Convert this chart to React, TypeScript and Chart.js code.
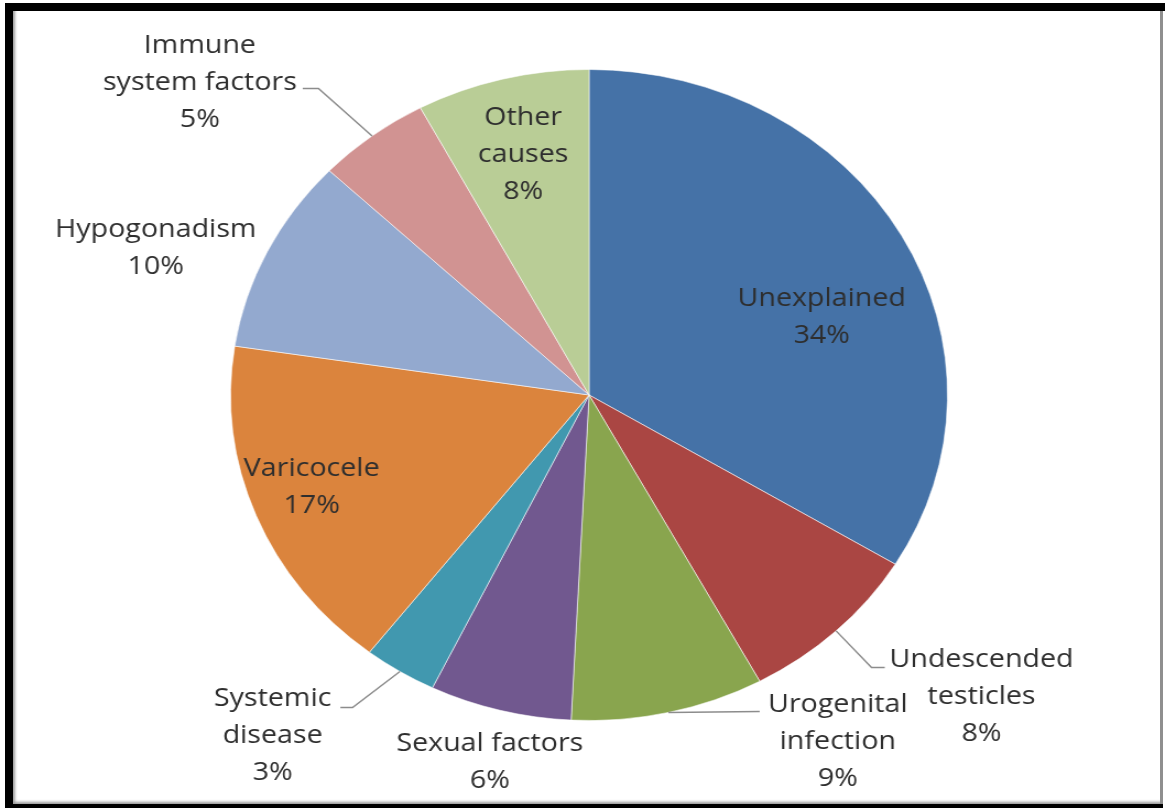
import React, { useEffect, useRef } from "react";
import { Chart, registerables } from "chart.js";

Chart.register(...registerables);

// ---- data ----
const categories = [
  "Unexplained",
  "Undescended testicles",
  "Urogenital infection",
  "Sexual factors",
  "Systemic disease",
  "Varicocele",
  "Hypogonadism",
  "Immune system factors",
  "Other causes",
];
const values = [33.7, 8.4, 8.7, 6.4, 3.3, 16.9, 9.7, 5.1, 7.8];
const labelLines = [
  ["Unexplained"],
  ["Undescended", "testicles"],
  ["Urogenital", "infection"],
  ["Sexual factors"],
  ["Systemic", "disease"],
  ["Varicocele"],
  ["Hypogonadism"],
  ["Immune", "system factors"],
  ["Other", "causes"],
];
const sliceColors = [
  "#4572A7",
  "#AA4643",
  "#89A54E",
  "#71588F",
  "#4198AF",
  "#DB843D",
  "#93A9CF",
  "#D19392",
  "#B9CD96",
];

// ---- label layout (in units of pie radius, relative to pie centre) ----
const labelLayout: [number, number][] = [
  [0.649, -0.245],
  [1.095, 0.923],
  [0.694, 1.061],
  [-0.277, 1.124],
  [-0.883, 1.04],
  [-0.774, 0.279],
  [-1.209, -0.457],
  [-1.086, -0.966],
  [-0.184, -0.742],
];
// [elbowX, elbowY, endX]
const leaderLayout: ([number, number, number] | null)[] = [
  null,
  [0.788, 0.837, 0.825],
  [0.476, 0.972, 0.476],
  null,
  [-0.66, 0.96, -0.694],
  null,
  null,
  [-0.755, -0.942, -0.799],
  null,
];

const STRETCH = 1.1011;
const CW = 1058;
const CH = 808;
const LINE_H = 37;

const labelPlugin = {
  id: "pieLabels",
  afterDatasetsDraw(chart: any) {
    const meta = chart.getDatasetMeta(0);
    const ctx = chart.ctx as CanvasRenderingContext2D;
    const total = values.reduce((a, b) => a + b, 0);
    ctx.save();
    meta.data.forEach((el: any, i: number) => {
      const { x, y, outerRadius: R, startAngle, endAngle } = el.getProps(
        ["x", "y", "outerRadius", "startAngle", "endAngle"],
        true
      );
      const lead = leaderLayout[i];
      if (lead) {
        const mid = (startAngle + endAngle) / 2;
        ctx.beginPath();
        ctx.strokeStyle = "#8c8c8c";
        ctx.lineWidth = 1.5;
        ctx.moveTo(x + R * Math.cos(mid), y + R * Math.sin(mid));
        ctx.lineTo(x + lead[0] * R, y + lead[1] * R);
        ctx.lineTo(x + lead[2] * R, y + lead[1] * R);
        ctx.stroke();
      }
      const pct = Math.round((values[i] / total) * 100) + "%";
      const lines = [...labelLines[i], pct];
      const lx = x + labelLayout[i][0] * R;
      const ly = y + labelLayout[i][1] * R;
      ctx.fillStyle = "#2e2e2e";
      ctx.font = '26px "Open Sans"';
      ctx.textAlign = "center";
      ctx.textBaseline = "alphabetic";
      const n = lines.length;
      lines.forEach((t, k) => {
        const cyLine = ly + (k - (n - 1) / 2) * LINE_H;
        ctx.fillText(t, lx, cyLine + 9);
      });
    });
    ctx.restore();
  },
};

export default function App() {
  const ref = useRef<HTMLCanvasElement>(null);
  useEffect(() => {
    if (!ref.current) return;
    const chart = new Chart(ref.current, {
      type: "pie",
      data: {
        labels: categories,
        datasets: [
          {
            data: values,
            backgroundColor: sliceColors,
            borderColor: "rgba(255,255,255,0.55)",
            borderWidth: 1,
          },
        ],
      },
      options: {
        responsive: false,
        animation: false,
        layout: { padding: { left: 209, right: 197, top: 69, bottom: 87 } },
        plugins: {
          legend: { display: false },
          tooltip: { enabled: false },
        },
      },
      plugins: [labelPlugin],
    });
    return () => chart.destroy();
  }, []);

  return (
    <div>
      <div
        style={{
          position: "fixed",
          left: 5,
          top: 3,
          width: 1158,
          height: 805,
          background: "#000",
        }}
      />
      <div
        style={{
          position: "fixed",
          left: 5,
          top: 3,
          width: 1160,
          height: 8,
          background: "#000",
        }}
      />
      <div
        style={{
          position: "fixed",
          left: 13,
          top: 11,
          width: 1150,
          height: 793,
          boxSizing: "border-box",
          background: "#fff",
          borderRight: "3px solid #8f8f8f",
          boxShadow: "inset 4px -4px 3px -2px rgba(0,0,0,0.4)",
        }}
      />
      <canvas
        ref={ref}
        width={CW}
        height={CH}
        style={{
          position: "fixed",
          left: 0,
          top: 0,
          width: CW,
          height: CH,
          display: "block",
          transform: `scaleX(${STRETCH})`,
          transformOrigin: "0 0",
        }}
      />
    </div>
  );
}
